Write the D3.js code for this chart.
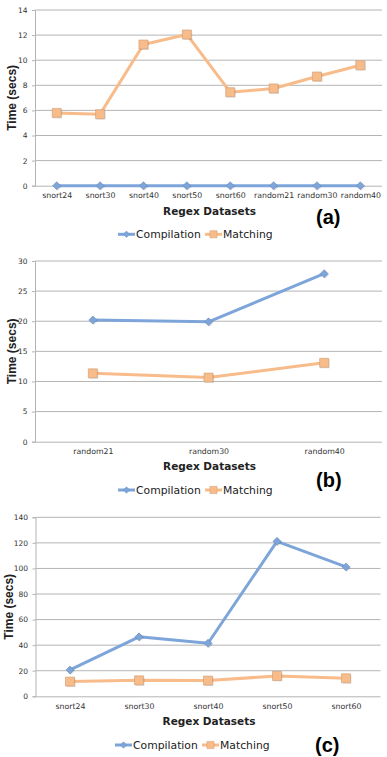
<!DOCTYPE html>
<html>
<head>
<meta charset="utf-8">
<script src="https://cdn.jsdelivr.net/npm/d3@7"></script>
<style>
html,body{margin:0;padding:0;background:#fff;}
svg{display:block;}
</style>
</head>
<body>
<svg id="chart" width="387" height="757"></svg>
<script>
// ---- data ----
const catsA = ["snort24","snort30","snort40","snort50","snort60","random21","random30","random40"];
const compA = [0,0,0,0,0,0,0,0];
const matchA = [5.8,5.7,11.25,12.05,7.45,7.75,8.7,9.6];
const ticksA = [0,2,4,6,8,10,12,14];

const catsB = ["random21","random30","random40"];
const compB = [20.2,19.9,27.9];
const matchB = [11.35,10.65,13.1];
const ticksB = [0,5,10,15,20,25,30];

const catsC = ["snort24","snort30","snort40","snort50","snort60"];
const compC = [20.6,46.5,41.5,121.2,101.2];
const matchC = [11.5,12.5,12.3,15.9,14.1];
const ticksC = [0,20,40,60,80,100,120,140];

const seriesNames = ["Compilation","Matching"];
const xTitle = "Regex Datasets";
const yTitle = "Time (secs)";
const panelLabels = ["(a)","(b)","(c)"];

// ---- style ----
const COMP = "#7da5da";
const MATCH = "#f8bb8a";
const GRID = "#b4b4b4";
const svg = d3.select("#chart");

function panel(cfg){
  const g = svg.append("g");
  const x = d3.scalePoint().domain(cfg.cats).range([cfg.left, cfg.right]).padding(0.5);
  const y = d3.scaleLinear().domain([0, d3.max(cfg.ticks)]).range([cfg.bottom, cfg.top]);

  // gridlines
  g.append("g").selectAll("line").data(cfg.ticks.filter(t=>t>0)).join("line")
    .attr("x1", cfg.left).attr("x2", cfg.right)
    .attr("y1", d=>y(d)).attr("y2", d=>y(d))
    .attr("stroke", GRID).attr("stroke-width", 1);

  // y axis
  const ya = g.append("g").attr("transform", `translate(${cfg.left},0)`)
    .call(d3.axisLeft(y).tickValues(cfg.ticks).tickSize(3).tickPadding(4.5));
  ya.select(".domain").attr("stroke", GRID);
  ya.selectAll(".tick line").attr("stroke", GRID);
  ya.selectAll("text").attr("font-family","DejaVu Sans, Verdana, sans-serif").attr("font-size", 7.5).attr("fill","#333");

  // x axis
  const xa = g.append("g").attr("transform", `translate(0,${cfg.bottom})`)
    .call(d3.axisBottom(x).tickSize(0).tickPadding(7));
  xa.select(".domain").attr("stroke", GRID).attr("d", `M${cfg.left},0.5H${cfg.right}`);
  xa.selectAll("text").attr("font-family","DejaVu Sans, Verdana, sans-serif").attr("font-size", 7.8)
    .attr("fill","#333");

  // series
  const line = d3.line().x(d=>x(d.c)).y(d=>y(d.v));
  const comp = cfg.cats.map((c,i)=>({c, v: cfg.comp[i]}));
  const match = cfg.cats.map((c,i)=>({c, v: cfg.match[i]}));

  function drawSeries(data, color, shape){
    g.append("path").datum(data).attr("d", line)
      .attr("fill","none").attr("stroke", color).attr("stroke-width", cfg.lw).attr("stroke-linejoin","round");
    g.append("g").selectAll("path").data(data).join("path")
      .attr("transform", d=>`translate(${x(d.c)+1},${y(d.v)+1})`)
      .attr("d", shape).attr("fill", "rgba(0,0,0,0.12)");
    g.append("g").selectAll("path").data(data).join("path")
      .attr("transform", d=>`translate(${x(d.c)},${y(d.v)})`)
      .attr("d", shape).attr("fill", color)
      .attr("stroke", d3.color(color).darker(0.5)).attr("stroke-width", 0.6);
  }
  const diamond = "M0,-4L4,0L0,4L-4,0Z";
  const square = "M-4.5,-4.5H4.5V4.5H-4.5Z";
  drawSeries(comp, COMP, diamond);
  drawSeries(match, MATCH, square);

  // titles
  g.append("text").attr("x", (cfg.left+cfg.right)/2 + 1).attr("y", cfg.xTitleY)
    .attr("text-anchor","middle").attr("font-family","DejaVu Sans, Verdana, sans-serif")
    .attr("font-weight","bold").attr("font-size", 10.5).attr("fill","#222").text(xTitle);
  g.append("text").attr("transform", `translate(${cfg.yTitleX},${(cfg.top+cfg.bottom)/2}) rotate(-90)`)
    .attr("text-anchor","middle").attr("dominant-baseline","central")
    .attr("font-family","Liberation Sans, Arial, sans-serif")
    .attr("font-weight","bold").attr("font-size", 12).attr("fill","#222").text(yTitle);

  // panel label
  g.append("text").attr("x", cfg.labelX).attr("y", cfg.labelY)
    .attr("font-family","Liberation Sans, Arial, sans-serif").attr("font-weight","bold")
    .attr("font-size", 20).attr("fill","#000").text(cfg.label);

  // legend
  const leg = g.append("g").attr("transform", `translate(0,${cfg.legY})`);
  const items = [
    {name: seriesNames[0], color: COMP, shape: diamond, x0: cfg.legX[0]},
    {name: seriesNames[1], color: MATCH, shape: square, x0: cfg.legX[1]}
  ];
  items.forEach(it=>{
    leg.append("line").attr("x1", it.x0).attr("x2", it.x0+17).attr("y1",0).attr("y2",0)
      .attr("stroke", it.color).attr("stroke-width", 3);
    leg.append("path").attr("transform", `translate(${it.x0+8.5},0) scale(0.8)`).attr("d", it.shape)
      .attr("fill", it.color).attr("stroke", d3.color(it.color).darker(0.5)).attr("stroke-width",0.6);
    leg.append("text").attr("x", it.x0+18).attr("y", 0).attr("dy","0.36em")
      .attr("font-family","DejaVu Sans, Verdana, sans-serif").attr("font-size", 10.8).attr("fill","#222")
      .text(it.name);
  });
}

panel({cats: catsA, comp: compA, match: matchA, ticks: ticksA,
  left: 35, right: 382, top: 10, bottom: 185.7, lw: 3,
  xTitleY: 214.5, yTitleX: 12, label: panelLabels[0], labelX: 316, labelY: 224,
  legY: 234.3, legX: [118, 205]});

panel({cats: catsB, comp: compB, match: matchB, ticks: ticksB,
  left: 35, right: 382, top: 261, bottom: 441.7, lw: 3,
  xTitleY: 470, yTitleX: 12, label: panelLabels[1], labelX: 316, labelY: 487,
  legY: 490, legX: [118, 205]});

panel({cats: catsC, comp: compC, match: matchC, ticks: ticksC,
  left: 35.5, right: 380.5, top: 517.3, bottom: 696.3, lw: 3,
  xTitleY: 724.5, yTitleX: 9, label: panelLabels[2], labelX: 315, labelY: 752,
  legY: 745, legX: [115, 202]});
</script>
</body>
</html>
